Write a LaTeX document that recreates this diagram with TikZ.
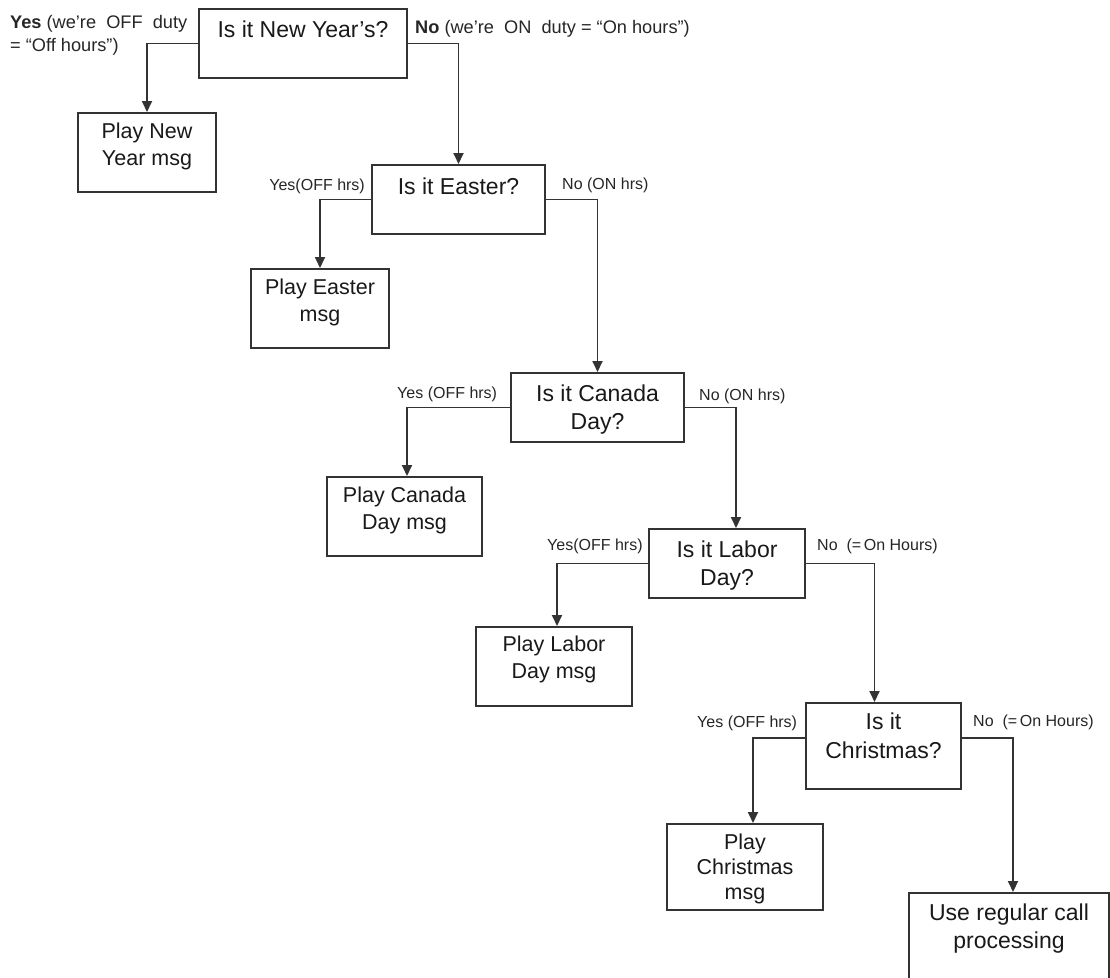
\documentclass[tikz,border=0pt]{standalone}
\usepackage{fontspec}
\setmainfont{Liberation Sans}
\usetikzlibrary{arrows.meta,calc}
\begin{document}
\begin{tikzpicture}[x=1pt,y=-1pt,
  box/.style={draw=black!80, line width=2pt, rectangle, inner sep=0pt, anchor=north west},
  btxt/.style={font=\fontsize{23}{28}\selectfont, align=center, anchor=north, inner sep=0pt, text=black!90},
  ptxt/.style={btxt, font=\fontsize{21.5}{26.5}\selectfont},
  arr/.style={draw=black!80, line width=1.9pt, -{Triangle[length=11pt,width=10pt]}},
  lab/.style={font=\fontsize{16}{19}\selectfont, inner sep=0pt, text=black!85},
  toplab/.style={font=\fontsize{18.2}{23}\selectfont, inner sep=0pt, text=black!85, align=left}]
\clip (0,0) rectangle (1110,977);
\fill[white] (0,0) rectangle (1110,977);
% boxes
\node[box, minimum width=208pt, minimum height=69pt] (ny) at (198,8) {};
\node[box, minimum width=138pt, minimum height=79pt] (pny) at (77,112) {};
\node[box, minimum width=173pt, minimum height=69pt] (eas) at (371,164) {};
\node[box, minimum width=138pt, minimum height=79pt] (peas) at (250,268) {};
\node[box, minimum width=173pt, minimum height=69pt] (can) at (510,372) {};
\node[box, minimum width=155pt, minimum height=79pt] (pcan) at (326,476) {};
\node[box, minimum width=156pt, minimum height=69pt] (lab) at (648,528) {};
\node[box, minimum width=156pt, minimum height=79pt] (plab) at (475,626) {};
\node[box, minimum width=155pt, minimum height=86pt] (xm) at (805,702) {};
\node[box, minimum width=156pt, minimum height=86pt] (pxm) at (666,823) {};
\node[box, minimum width=200pt, minimum height=100pt] (reg) at (908,892) {};
% box texts
\node[btxt] (nyt) at ([yshift=-13pt]ny.north) {Is it New Year’s?};
\node[ptxt] (pnyt) at ([yshift=-11pt]pny.north) {Play New\\Year msg};
\node[btxt] (east) at ([yshift=-14pt]eas.north) {Is it Easter?};
\node[ptxt] (peast) at ([yshift=-11pt]peas.north) {Play Easter\\msg};
\node[btxt] (cant) at ([yshift=-12.5pt]can.north) {Is it Canada\\Day?};
\node[ptxt] (pcant) at ([yshift=-11pt]pcan.north) {Play Canada\\Day msg};
\node[btxt] (labt) at ([yshift=-12.5pt]lab.north) {Is it Labor\\Day?};
\node[ptxt] (plabt) at ([yshift=-10pt]plab.north) {Play Labor\\Day msg};
\node[btxt, font=\fontsize{23}{29}\selectfont] (xmt) at ([yshift=-11pt]xm.north) {Is it\\Christmas?};
\node[ptxt, font=\fontsize{21.5}{25}\selectfont] (pxmt) at ([yshift=-11pt]pxm.north) {Play\\Christmas\\msg};
\node[btxt] (regt) at ([yshift=-12pt]reg.north) {Use regular call\\processing};
% connectors
\draw[arr] (ny.west) -| (pny.north);
\draw[arr] (ny.east) -| (eas.north);
\draw[arr] (eas.west) -| (peas.north);
\draw[arr] (eas.east) -| (can.north);
\draw[arr] (can.west) -| ([xshift=2.5pt]pcan.north);
\draw[arr] (can.east) -| ([xshift=9pt]lab.north);
\draw[arr] (lab.west) -| ([xshift=3pt]plab.north);
\draw[arr] (lab.east) -| ([xshift=-9pt]xm.north);
\draw[arr] ([yshift=8pt]xm.west) -| ([xshift=8pt]pxm.north);
\draw[arr] ([yshift=8pt]xm.east) -| ([xshift=4pt]reg.north);
% labels
\node[toplab, anchor=north west] (ly0) at (10,15) {\textbf{Yes} (we’re \ OFF \ duty\\= “Off hours”)};
\node[toplab, anchor=west] (ln0) at (415,29) {\textbf{No} (we’re \ ON \ duty = “On hours”)};
\node[lab, anchor=east] (ly1) at (365,186) {Yes(OFF hrs)};
\node[lab, anchor=west] (ln1) at (562,185) {No (ON hrs)};
\node[lab, anchor=west] (ly2) at (397,394) {Yes (OFF hrs)};
\node[lab, anchor=west] (ln2) at (699,396) {No (ON hrs)};
\node[lab, anchor=west] (ly3) at (547,546) {Yes(OFF hrs)};
\node[lab, anchor=west] (ln3) at (817,546) {No \ (=\,On Hours)};
\node[lab, anchor=west] (ly4) at (697,723) {Yes (OFF hrs)};
\node[lab, anchor=west] (ln4) at (973,722) {No \ (=\,On Hours)};
\end{tikzpicture}
\end{document}
